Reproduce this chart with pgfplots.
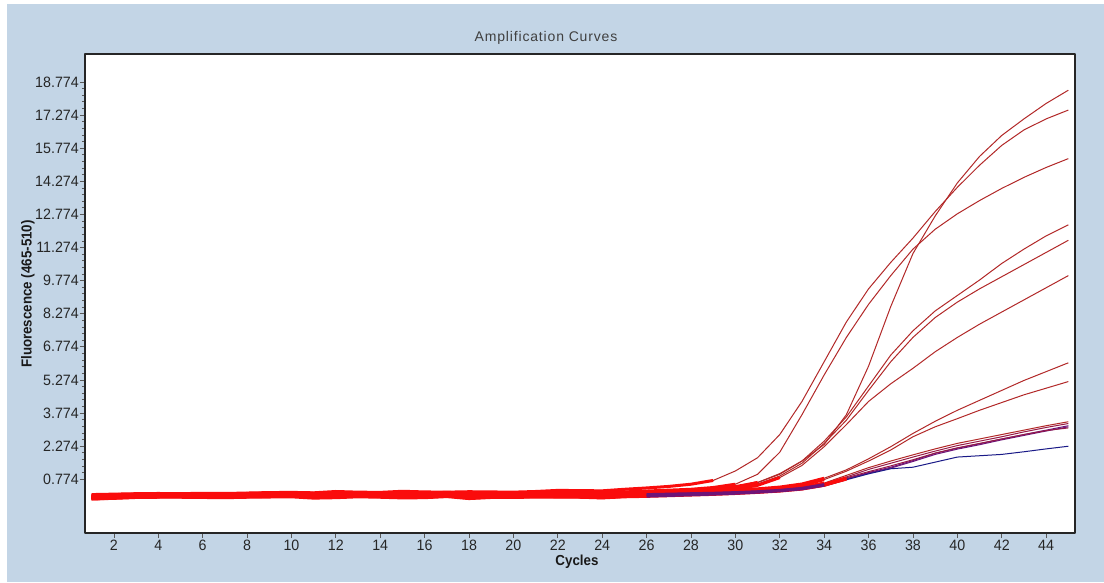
\documentclass[border=0pt]{standalone}
\usepackage{fontspec}
\setmainfont{Liberation Sans}
\usepackage{pgfplots}
\pgfplotsset{compat=1.18}
\usepackage{pgfplotstable}
\newfontfamily\tickfont[FakeStretch=0.95]{Liberation Sans}
\newfontfamily\labfont[FakeStretch=0.92]{Liberation Sans}
\newfontfamily\titfont[LetterSpace=6]{Liberation Sans}
\definecolor{bgblue}{RGB}{195,213,230}
\definecolor{cred}{RGB}{178,40,40}
\definecolor{bred}{RGB}{250,12,12}
\definecolor{cdred}{RGB}{150,25,70}
\definecolor{cpurp}{RGB}{110,20,120}
\definecolor{cblue}{RGB}{25,25,135}

\pgfplotstableread{
x c1 c2 c3 c4 c5 c6 c7 c8 c9 c10 c11 c12 c13 c14
1 0.08 0.02 -0.05 0.00 -0.08 -0.10 0.05 -0.12 -0.02 -0.06 -0.12 -0.04 -0.10 -0.03
2 0.10 0.05 0.00 0.04 -0.04 -0.06 0.08 -0.08 0.02 -0.03 -0.09 0.00 -0.07 0.01
3 0.12 0.07 0.03 0.06 0.00 -0.02 0.10 -0.04 0.04 0.00 -0.05 0.02 -0.03 0.03
4 0.13 0.08 0.04 0.07 0.01 0.00 0.11 -0.03 0.05 0.01 -0.04 0.03 -0.02 0.04
5 0.12 0.09 0.05 0.06 0.02 0.01 0.10 -0.02 0.06 0.00 -0.04 0.04 -0.01 0.05
6 0.14 0.10 0.04 0.08 0.03 0.00 0.12 -0.03 0.05 0.01 -0.05 0.03 -0.02 0.04
7 0.13 0.09 0.03 0.07 0.01 -0.01 0.11 -0.04 0.04 0.00 -0.06 0.02 -0.03 0.03
8 0.15 0.11 0.05 0.09 0.03 0.01 0.13 -0.02 0.07 0.02 -0.04 0.04 -0.01 0.05
9 0.17 0.12 0.07 0.10 0.05 0.03 0.15 0.00 0.08 0.03 -0.03 0.06 0.00 0.07
10 0.18 0.14 0.08 0.12 0.06 0.04 0.16 0.01 0.10 0.04 -0.02 0.07 0.01 0.08
11 0.16 0.12 0.05 0.10 0.03 0.00 0.14 -0.05 0.07 -0.02 -0.08 0.04 -0.06 0.05
12 0.22 0.13 0.08 0.11 0.05 0.02 0.15 -0.03 0.08 0.01 -0.06 0.05 -0.03 0.06
13 0.19 0.15 0.09 0.12 0.07 0.04 0.17 0.01 0.10 0.04 -0.02 0.07 0.01 0.08
14 0.18 0.13 0.07 0.11 0.05 0.02 0.15 -0.01 0.09 0.02 -0.04 0.06 -0.01 0.07
15 0.23 0.15 0.08 0.12 0.04 0.00 0.16 -0.04 0.08 0.00 -0.07 0.05 -0.04 0.06
16 0.20 0.14 0.07 0.11 0.03 0.01 0.15 -0.05 0.07 0.00 -0.06 0.04 -0.03 0.05
17 0.19 0.16 0.10 0.13 0.07 0.05 0.18 0.02 0.11 0.05 -0.01 0.08 0.02 0.09
18 0.21 0.14 0.06 0.10 0.02 -0.02 0.15 -0.08 0.06 -0.03 -0.10 0.03 -0.06 0.04
19 0.20 0.15 0.08 0.12 0.05 0.02 0.16 -0.03 0.09 0.02 -0.05 0.06 -0.01 0.07
20 0.19 0.14 0.07 0.11 0.04 0.01 0.15 -0.04 0.08 0.01 -0.05 0.05 -0.02 0.06
21 0.22 0.16 0.09 0.13 0.06 0.03 0.17 -0.01 0.10 0.03 -0.03 0.07 0.00 0.08
22 0.27 0.17 0.10 0.14 0.06 0.03 0.18 -0.02 0.11 0.03 -0.03 0.08 0.01 0.09
23 0.26 0.17 0.09 0.13 0.05 0.02 0.18 -0.03 0.10 0.02 -0.04 0.07 0.00 0.08
24 0.25 0.15 0.06 0.12 0.03 0.00 0.17 -0.06 0.08 0.00 -0.07 0.05 -0.03 0.06
25 0.32 0.20 0.10 0.14 0.05 0.02 0.18 0.00 0.10 0.03 -0.02 0.06 0.00 0.07
26 0.38 0.24 0.14 0.18 0.09 0.06 0.20 0.04 0.12 0.05 0.00 0.07 0.02 0.09
27 0.45 0.28 0.18 0.23 0.14 0.10 0.22 0.08 0.14 0.08 0.03 0.09 0.05 0.11
28 0.55 0.32 0.24 0.28 0.20 0.16 0.25 0.12 0.16 0.10 0.06 0.11 0.08 0.13
29 0.72 0.40 0.30 0.34 0.27 0.22 0.27 0.16 0.18 0.13 0.09 0.13 0.11 0.15
30 1.15 0.55 0.40 0.44 0.38 0.32 0.30 0.20 0.21 0.17 0.13 0.16 0.15 0.18
31 1.75 1.00 0.63 0.62 0.56 0.50 0.34 0.26 0.25 0.22 0.18 0.20 0.19 0.22
32 2.80 2.00 1.03 1.00 0.92 0.85 0.42 0.36 0.31 0.28 0.24 0.26 0.24 0.28
33 4.30 3.70 1.60 1.60 1.50 1.40 0.56 0.50 0.42 0.38 0.33 0.36 0.32 0.37
34 6.10 5.50 2.35 2.50 2.40 2.25 0.82 0.76 0.60 0.55 0.50 0.52 0.46 0.54
35 7.90 7.20 3.70 3.60 3.45 3.25 1.20 1.14 0.95 0.88 0.80 0.78 0.75 0.84
36 9.40 8.70 5.90 5.00 4.80 4.30 1.70 1.60 1.30 1.22 1.08 1.05 1.02 1.12
37 10.60 10.00 8.60 6.40 6.10 5.10 2.25 2.10 1.60 1.50 1.32 1.28 1.25 1.38
38 11.70 11.20 11.00 7.50 7.20 5.80 2.85 2.70 1.88 1.78 1.62 1.58 1.32 1.66
39 12.90 12.10 12.70 8.40 8.10 6.55 3.40 3.15 2.15 2.05 1.95 1.90 1.55 1.96
40 14.00 12.80 14.20 9.10 8.80 7.20 3.90 3.52 2.40 2.30 2.18 2.14 1.78 2.20
41 15.00 13.40 15.40 9.80 9.40 7.80 4.35 3.90 2.60 2.50 2.38 2.34 1.84 2.40
42 15.90 13.95 16.35 10.55 9.95 8.35 4.80 4.25 2.80 2.70 2.60 2.56 1.90 2.60
43 16.60 14.45 17.10 11.20 10.50 8.90 5.25 4.60 3.00 2.92 2.80 2.76 2.02 2.80
44 17.10 14.90 17.80 11.80 11.05 9.45 5.65 4.90 3.20 3.12 3.00 2.96 2.15 2.98
45 17.50 15.30 18.40 12.30 11.60 10.00 6.05 5.20 3.38 3.30 3.20 3.15 2.27 3.10
}\curves

\begin{document}
\begin{tikzpicture}
\useasboundingbox (0pt,0pt) rectangle (1104pt,583pt);
\fill[white] (0pt,0pt) rectangle (1104pt,583pt);
\fill[bgblue] (7pt,1pt) rectangle (1104pt,579pt);
\begin{axis}[
  at={(85pt,50pt)}, anchor=south west,
  scale only axis, width=990pt, height=479pt,
  xmin=0.7, xmax=45.3, ymin=-1.66, ymax=20.04,
  axis background/.style={fill=white},
  axis line style={draw=black!85, line width=1.5pt},
  tick align=outside, tick pos=left,
  major tick length=5pt, minor tick length=3pt,
  every tick/.style={black!65, line width=0.7pt},
  xtick={2,4,...,44},
  ytick={0.774,2.274,3.774,5.274,6.774,8.274,9.774,11.274,12.774,14.274,15.774,17.274,18.774},
  yticklabels={0.774,2.274,3.774,5.274,6.774,8.274,9.774,11.274,12.774,14.274,15.774,17.274,18.774},
  minor y tick num=4,
  /pgf/number format/assume math mode=true,
  tick label style={font={\tickfont\fontsize{15}{18}\selectfont}, text=black!85},
  xticklabel style={inner sep=2pt},
  yticklabel style={inner sep=1pt},
  unbounded coords=jump,
  line join=round,
]
% thin curves
\addplot[cred, line width=1pt] table[x=x,y=c1]{\curves};
\addplot[cred, line width=1pt] table[x=x,y=c2]{\curves};
\addplot[cred, line width=1pt] table[x=x,y=c3]{\curves};
\addplot[cred, line width=1pt] table[x=x,y=c4]{\curves};
\addplot[cred, line width=1pt] table[x=x,y=c5]{\curves};
\addplot[cred, line width=1pt] table[x=x,y=c6]{\curves};
\addplot[cred, line width=1pt] table[x=x,y=c7]{\curves};
\addplot[cred, line width=1pt] table[x=x,y=c8]{\curves};
\addplot[cred, line width=1pt] table[x=x,y=c9]{\curves};
\addplot[cdred, line width=1pt] table[x=x,y=c10]{\curves};
\addplot[cpurp, line width=1pt] table[x=x,y=c11]{\curves};
\addplot[cpurp, line width=1pt] table[x=x,y=c12]{\curves};
\addplot[cdred, line width=1pt] table[x=x,y=c14]{\curves};
\addplot[cblue, line width=1pt] table[x=x,y=c13]{\curves};
% thick baseline band
\pgfplotsinvokeforeach{c1,c2,c3,c4,c5,c6,c7,c8,c9,c10,c11,c12,c14}{
  \addplot[bred, line width=3pt, restrict y to domain=-5:0.85, forget plot] table[x=x,y=#1]{\curves};
}
\pgfplotsinvokeforeach{c11,c12,c14}{
  \addplot[cpurp, line width=2.5pt, restrict x to domain=26:34, restrict y to domain=-5:0.85, forget plot] table[x=x,y=#1]{\curves};
}
\end{axis}
\node[font={\titfont\fontsize{14}{16}\selectfont}, text=black!75] at (546pt,545pt) {Amplification Curves};
\node[rotate=90, font={\labfont\bfseries\fontsize{14.5}{17}\selectfont}, text=black!90] at (28pt,289pt) {Fluorescence (465-510)};
\node[font={\labfont\bfseries\fontsize{14.5}{17}\selectfont}, text=black!90] at (577pt,21pt) {Cycles};
\end{tikzpicture}
\end{document}
